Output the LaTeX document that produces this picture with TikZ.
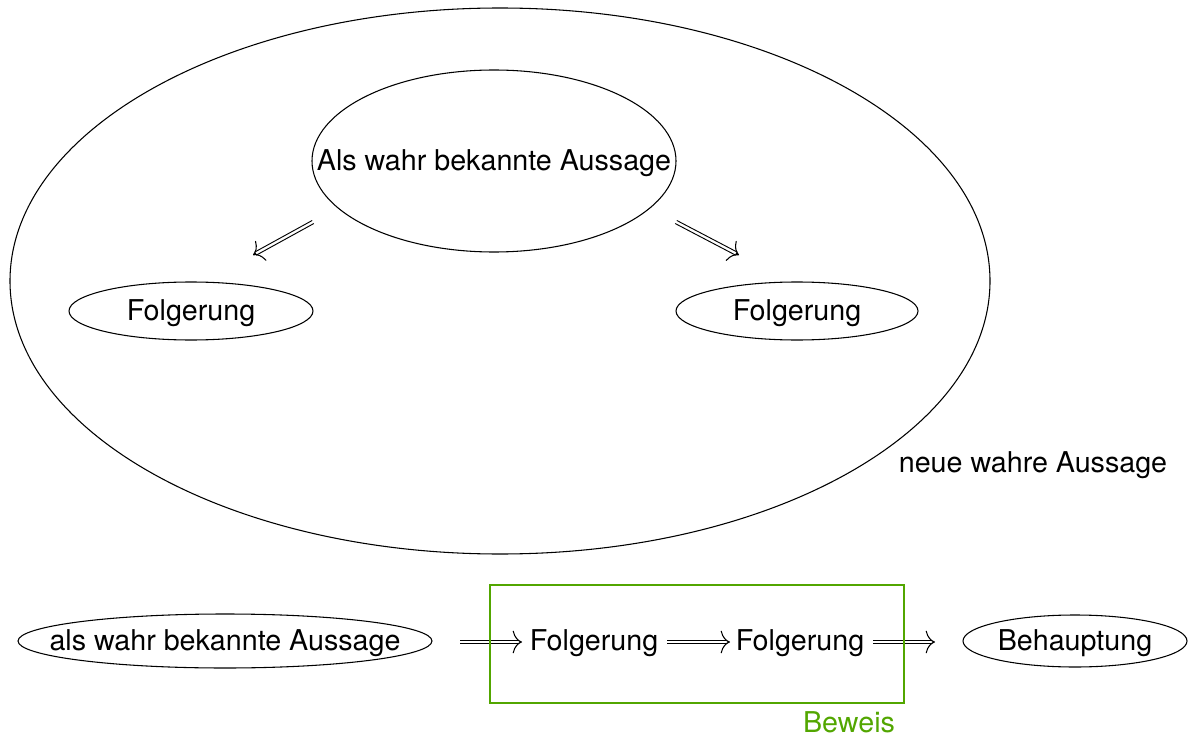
\documentclass[tikz,border=0pt]{standalone}
\usepackage{fontspec}
\setmainfont{TeX Gyre Heros}
\usetikzlibrary{arrows.meta,calc}
\definecolor{bgreen}{RGB}{82,166,0}
\begin{document}
\begin{tikzpicture}[x=0.75pt,y=-0.75pt,
  every node/.style={font=\fontsize{21.5}{26}\selectfont, inner sep=0pt},
  rail/.style={line width=0.7pt},
  tip/.style={line width=0.8pt, -{To[length=7pt,width=17pt,line width=0.8pt]}}]
\newcommand\dimp[2]{%
  \coordinate (tmpe) at ($(#2)!2pt!(#1)$);
  \draw[rail] ($(#1)!1.3pt!90:(#2)$) -- ($(tmpe)!1.3pt!-90:(#1)$);
  \draw[rail] ($(#1)!1.3pt!-90:(#2)$) -- ($(tmpe)!1.3pt!90:(#1)$);
  \draw[tip] ($(#1)!0.95!(#2)$) -- (#2);}
\useasboundingbox (0,0) rectangle (1203,738);
\draw[line width=0.8pt] (500,281) ellipse [x radius=490, y radius=273];
\draw[line width=0.8pt] (494,161) ellipse [x radius=182, y radius=91];
\node (top) at (494,163) {Als wahr bekannte Aussage};
\draw[line width=0.8pt] (191,311) ellipse [x radius=122, y radius=29];
\node (f1) at (191,313) {Folgerung};
\draw[line width=0.8pt] (797,311) ellipse [x radius=121, y radius=29];
\node (f2) at (797,313) {Folgerung};
\coordinate (a1s) at (313,222);
\coordinate (a1e) at (253,255);
\coordinate (a2s) at (676,222);
\coordinate (a2e) at (739,255);
\dimp{a1s}{a1e}
\dimp{a2s}{a2e}
\node[anchor=center] (neu) at (1033,465) {neue wahre Aussage};
% bottom row
\draw[line width=0.8pt] (225,641) ellipse [x radius=207, y radius=27];
\node (b0) at (225,643) {als wahr bekannte Aussage};
\node (b1) at (594,643) {Folgerung};
\node (b2) at (800,643) {Folgerung};
\draw[line width=0.8pt] (1075,641) ellipse [x radius=112, y radius=26];
\node (b3) at (1075,643) {Behauptung};
\coordinate (c1) at (460,642);
\coordinate (c2) at (522,642);
\coordinate (c3) at (667,642);
\coordinate (c4) at (730,642);
\coordinate (c5) at (873,642);
\coordinate (c6) at (935,642);
\dimp{c1}{c2}
\dimp{c3}{c4}
\dimp{c5}{c6}
\draw[bgreen, line width=0.8pt] (490,585) rectangle (904,703);
\node[text=bgreen] (bew) at (849,722) {Beweis};
\end{tikzpicture}
\end{document}
